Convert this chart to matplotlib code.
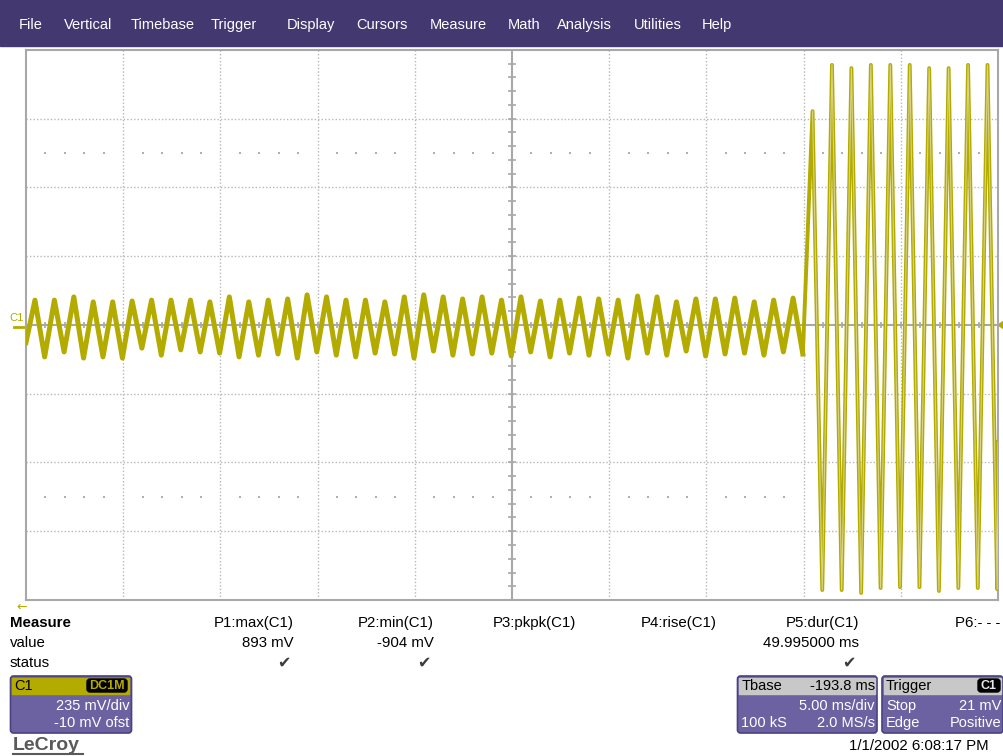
import numpy as np
import matplotlib
matplotlib.use("Agg")
import matplotlib.pyplot as plt
from matplotlib.patches import Rectangle, FancyBboxPatch, Polygon

plt.rcParams['font.family'] = ['Liberation Sans', 'DejaVu Sans']

# --- data (mV, 1 kHz signal, 5 ms/div, 235 mV/div) ---
menu_items = ["File", "Vertical", "Timebase", "Trigger", "Display", "Cursors",
              "Measure", "Math", "Analysis", "Utilities", "Help"]
menu_x = [19, 64, 131, 211, 287, 356, 430, 508, 557, 634, 702]

period_ms = 1.0
small_peaks = [85, 85, 96, 79, 79, 82, 85, 85, 85, 79,
               96, 79, 85, 89, 103, 96, 85, 85, 79, 96,
               103, 96, 89, 96, 85, 96, 82, 85, 92, 89,
               85, 99, 96, 79, 89, 89, 92, 79, 85, 92]
small_troughs = [-60, -109, -92, -113, -109, -113, -79, -103, -85, -92,
                 -96, -109, -103, -99, -113, -92, -103, -109, -96, -99,
                 -113, -89, -103, -99, -96, -106, -92, -109, -96, -103,
                 -99, -113, -96, -103, -89, -106, -99, -96, -103, -92, -99]
big_peaks = [731, 889, 878, 889, 889, 889, 878, 878, 889, 889]
big_troughs = [-906, -906, -916, -899, -896, -896, -909, -899, -899, -903]

mv_div = 235.0
olive = '#b3ab00'
purple = '#433870'
box_purple = '#6c62a2'

# build the traces (trough/peak alternation, half a period apart)
n_small = len(small_peaks)
t_s, v_s = [], []
for k in range(n_small):
    t_s += [max(k * period_ms - 0.04, 0.0), k * period_ms + 0.46]
    v_s += [small_troughs[k], small_peaks[k]]
t_s.append(n_small * period_ms - 0.04)
v_s.append(small_troughs[n_small])

t_b, v_b = [t_s[-1]], [v_s[-1]]
for k in range(len(big_peaks)):
    t_b += [(n_small + k) * period_ms + 0.46, (n_small + k) * period_ms + 0.96]
    v_b += [big_peaks[k], big_troughs[k]]
t_b.append(50.0)
v_b.append(-400)

W, H = 1004, 756
fig = plt.figure(figsize=(W / 100, H / 100), dpi=100)
fig.patch.set_facecolor('white')

ov = fig.add_axes([0, 0, 1, 1])
ov.set_xlim(0, W)
ov.set_ylim(H, 0)
ov.axis('off')

# menu bar
ov.add_patch(Rectangle((0, 0), W, 46, color=purple, zorder=1))
for name, x in zip(menu_items, menu_x):
    ov.text(x, 25, name, color='white', fontsize=10.5, ha='left', va='center')

# scope grid
ax = fig.add_axes([26 / W, 1 - 600 / H, (998 - 26) / W, 550 / H])
ax.set_xlim(0, 50)
ax.set_ylim(-4 * mv_div, 4 * mv_div)
ax.set_xticks([])
ax.set_yticks([])
for s in ax.spines.values():
    s.set_color('#a8a8a8')
    s.set_linewidth(1.5)

grid_kw = dict(color='#b8b8b8', lw=1, ls=(0, (1, 1.5)), zorder=1)
for i in range(1, 10):
    if i != 5:
        ax.axvline(i * 5, **grid_kw)
for j in [-3, -2, -1, 1, 2, 3]:
    ax.axhline(j * mv_div, **grid_kw)
ax.axvline(25, color='#a8a8a8', lw=1.5, zorder=1)
ax.axhline(0, color='#a8a8a8', lw=1.5, zorder=1)

minor_x = np.arange(1, 50, 1.0)
ax.vlines(minor_x, -11, 11, color='#a8a8a8', lw=1.2, zorder=1)
minor_y = np.arange(-4 * mv_div, 4 * mv_div + 1, mv_div / 5)
ax.hlines(minor_y, 25 - 0.2, 25 + 0.2, color='#a8a8a8', lw=1.2, zorder=1)

dot_x = [x for x in minor_x if x % 5 != 0]
for yy in (2.5 * mv_div, -2.5 * mv_div):
    ax.scatter(dot_x, [yy] * len(dot_x), s=1.2, marker='s', color='#b0b0b0',
               linewidths=0, zorder=1)

ax.plot(t_s, v_s, color=olive, lw=3.6, zorder=3, solid_joinstyle='round')
ax.plot(t_b, v_b, color=olive, lw=2.8, zorder=3, solid_joinstyle='round')
ax.plot(t_b[1:], v_b[1:], color='#d9d385', lw=0.8, zorder=4)

# channel / trigger markers
ov.text(9, 318, "C1", color=olive, fontsize=8, ha='left', va='center')
ov.plot([14, 26], [327, 327], color=olive, lw=2)
ov.add_patch(Polygon([[998, 325], [1004, 321], [1004, 329]], color=olive))
ov.text(22, 607, "\u2190", color=olive, fontsize=9, ha='center', va='center',
        family=['DejaVu Sans'])

# measurement table
fs = 10.8
ov.text(10, 623, "Measure", fontsize=fs, weight='bold', va='center')
ov.text(10, 643, "value", fontsize=fs, va='center')
ov.text(10, 663, "status", fontsize=fs, va='center')
params = ["P1:max(C1)", "P2:min(C1)", "P3:pkpk(C1)", "P4:rise(C1)", "P5:dur(C1)", "P6:- - -"]
values = ["893 mV", "-904 mV", "", "", "49.995000 ms", ""]
checks = [True, True, False, False, True, False]
col_right = [294, 434, 576, 717, 859, 1000]
for p, v, c, xr in zip(params, values, checks, col_right):
    ov.text(xr, 623, p, fontsize=fs, ha='right', va='center')
    if v:
        ov.text(xr, 643, v, fontsize=fs, ha='right', va='center')
    if c:
        ov.text(xr - 10, 663, "\u2714", fontsize=11.5, ha='center', va='center',
                color='#3c3c3c', family=['DejaVu Sans'])

bfs = 10.5


def info_box(x0, x1, head_color, head_left, head_right, badge, rows):
    ov.add_patch(FancyBboxPatch((x0, 676), x1 - x0, 57,
                                boxstyle='round,pad=0,rounding_size=3',
                                fc=box_purple, ec='#4a4183', lw=1.2))
    ov.add_patch(Rectangle((x0 + 2, 678), x1 - x0 - 4, 16, color=head_color))
    ov.text(x0 + 4, 686, head_left, fontsize=bfs, color='black', va='center')
    if badge:
        bx0, bx1, btxt, bcol = badge
        ov.add_patch(FancyBboxPatch((bx0, 679), bx1 - bx0, 13,
                                    boxstyle='round,pad=0,rounding_size=3',
                                    fc='black', ec='black'))
        ov.text((bx0 + bx1) / 2, 686, btxt, fontsize=9, color=bcol,
                ha='center', va='center', weight='bold')
    if head_right:
        ov.text(x1 - 2, 686, head_right, fontsize=bfs, color='black',
                ha='right', va='center')
    for y, left, right in rows:
        if left:
            ov.text(x0 + 4, y, left, fontsize=bfs, color='white', va='center')
        if right:
            ov.text(x1 - 2, y, right, fontsize=bfs, color='white',
                    ha='right', va='center')


info_box(10.5, 131.5, olive, "C1", "", (87, 127, "DC1M", olive),
         [(706, "", "235 mV/div"), (723, "", "-10 mV ofst")])
info_box(737.5, 877, '#c8c8c8', "Tbase", "-193.8 ms", None,
         [(706, "", "5.00 ms/div"), (723, "100 kS", "2.0 MS/s")])
info_box(882, 1003, '#c8c8c8', "Trigger", "", (978, 1000, "C1", '#e8e8e8'),
         [(706, "Stop", "21 mV"), (723, "Edge", "Positive")])

# footer
ov.text(13, 745, "LeCroy", fontsize=14, color='#5a5a5a', weight='bold',
        va='center', ha='left')
ov.plot([13, 83], [754, 754], color='#5a5a5a', lw=1.5)
ov.text(989, 746, "1/1/2002 6:08:17 PM", fontsize=10.8, ha='right', va='center')

fig.savefig("out.png", dpi=100)
